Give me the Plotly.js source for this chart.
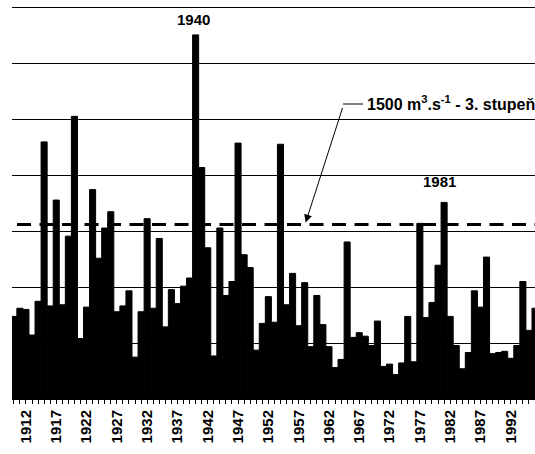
<!DOCTYPE html>
<html>
<head>
<meta charset="utf-8">
<script src="https://cdn.plot.ly/plotly-3.0.1.min.js"></script>
<style>html,body{margin:0;padding:0;background:#fff;}#chart{width:535px;height:454px;}</style>
</head>
<body>
<div id="chart"></div>
<script>
// Years (categories)
const years = [1910,1911,1912,1913,1914,1915,1916,1917,1918,1919,
  1920,1921,1922,1923,1924,1925,1926,1927,1928,1929,
  1930,1931,1932,1933,1934,1935,1936,1937,1938,1939,
  1940,1941,1942,1943,1944,1945,1946,1947,1948,1949,
  1950,1951,1952,1953,1954,1955,1956,1957,1958,1959,
  1960,1961,1962,1963,1964,1965,1966,1967,1968,1969,
  1970,1971,1972,1973,1974,1975,1976,1977,1978,1979,
  1980,1981,1982,1983,1984,1985,1986,1987,1988,1989,
  1990,1991,1992,1993,1994,1995,1996];
// Annual peak discharge (m3/s)
const peaks = [710,780,770,550,840,2210,800,1710,810,1400,
  2430,520,790,1800,1210,1470,1610,750,800,930,
  360,750,1550,780,1380,620,940,820,970,1040,
  3130,1990,1300,370,1470,890,1010,2200,1240,1130,
  420,650,880,660,2190,810,1080,630,1000,450,
  890,640,450,270,340,1350,530,570,540,460,
  670,280,300,210,310,710,320,1510,700,830,
  1150,1690,710,460,260,400,930,790,1220,390,
  400,410,350,460,1010,590,780];
// Threshold (3rd flood degree)
const threshold = 1500;
const thresholdLabel = '1500 m<sup>3</sup>.s<sup>-1</sup> - 3. stupeň';
// Highlighted years
const labelYears = [1940, 1981];

const FONT = 'Liberation Sans, Arial, sans-serif';

const trace = {
  type: 'bar',
  x: years,
  y: peaks,
  width: 1,
  marker: {color: '#000', line: {color: '#000', width: 1}},
  hoverinfo: 'x+y'
};

const valOf = y => peaks[years.indexOf(y)];

// plot area: top 5px, bottom at 399px (394px tall)
const T = 5, B = 399, H = B - T;

const layout = {
  width: 535, height: 454,
  margin: {l: 12, r: 0, t: T, b: 454 - B, pad: 0},
  paper_bgcolor: '#fff', plot_bgcolor: '#fff',
  showlegend: false,
  bargap: 0,
  xaxis: {
    range: [1909.7, 1996.0],
    tick0: 1912, dtick: 5,
    ticks: 'outside', ticklen: 4, tickwidth: 1, tickcolor: '#000',
    tickangle: -90,
    tickfont: {family: FONT, size: 15, color: '#000', weight: 'bold'},
    showgrid: false, zeroline: false,
    showline: true, linecolor: '#000', linewidth: 1,
    minor: {tick0: 1912, dtick: 1, ticks: 'outside', ticklen: 4, tickwidth: 1, tickcolor: '#000', showgrid: false}
  },
  yaxis: {
    range: [0, 3387], tick0: 0, dtick: 481.4,
    showticklabels: false, ticks: '',
    showgrid: true, gridcolor: '#000', gridwidth: 1,
    zeroline: false, showline: false
  },
  shapes: [
    {type: 'line', xref: 'paper', yref: 'y', x0: 0.0096, x1: 1, y0: threshold, y1: threshold,
     line: {color: '#000', width: 3, dash: '14px,8.5px'}, layer: 'above'},
    {type: 'line', xref: 'paper', yref: 'paper', x0: (343-12)/523, x1: (363-12)/523,
     y0: (B-104)/H, y1: (B-104)/H, line: {color: '#000', width: 1}}
  ],
  annotations: [
    {x: labelYears[0], y: valOf(labelYears[0]), xref: 'x', yref: 'y', text: String(labelYears[0]),
     showarrow: false, yanchor: 'bottom', xanchor: 'center', xshift: -2, yshift: 5,
     font: {family: FONT, size: 15, color: '#000', weight: 'bold'}},
    {x: labelYears[1], y: valOf(labelYears[1]), xref: 'x', yref: 'y', text: String(labelYears[1]),
     showarrow: false, yanchor: 'bottom', xanchor: 'center', xshift: -5, yshift: 10,
     font: {family: FONT, size: 15, color: '#000', weight: 'bold'}},
    {x: (365-12)/523, y: (B-103)/H, xref: 'paper', yref: 'paper', text: thresholdLabel,
     showarrow: false, xanchor: 'left', yanchor: 'middle',
     font: {family: FONT, size: 16, color: '#000', weight: 'bold'}},
    {x: (305-12)/523, y: threshold, xref: 'paper', yref: 'y', text: '',
     showarrow: true, ax: 38, ay: -118, arrowhead: 2, arrowsize: 1.6, arrowwidth: 1,
     arrowcolor: '#000', standoff: 2}
  ]
};

Plotly.newPlot('chart', [trace], layout, {displayModeBar: false, staticPlot: true});
</script>
</body>
</html>
